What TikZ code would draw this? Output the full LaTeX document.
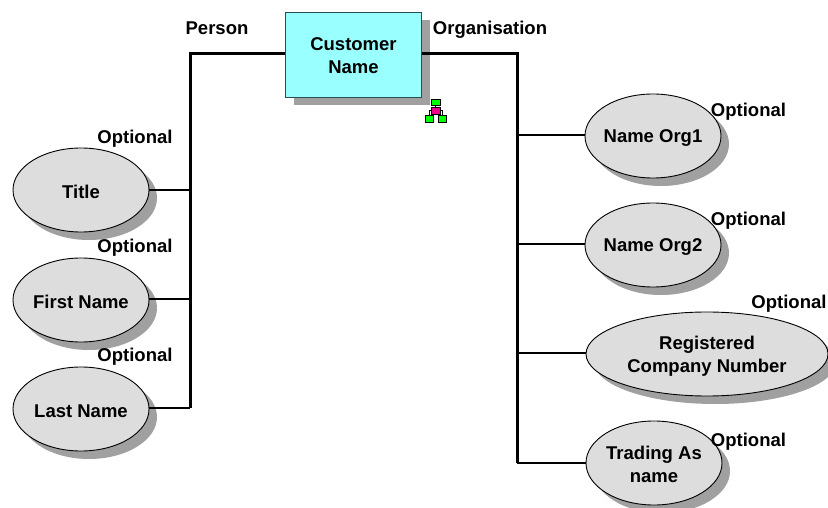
\documentclass[tikz,border=0pt]{standalone}
\usepackage{fontspec}
\setmainfont{Liberation Sans}
\usetikzlibrary{shapes.geometric}
\definecolor{attr}{RGB}{221,221,221}
\definecolor{shadowgray}{RGB}{160,160,160}
\definecolor{ent}{RGB}{153,255,255}
\definecolor{entline}{RGB}{40,80,80}
\newcommand{\dn}[2][-2pt]{\raisebox{#1}[\height][\depth]{\makebox[80pt][c]{#2}}}
\tikzset{
  x=1pt,y=-1pt,
  lab/.style={font=\fontsize{18.5pt}{23pt}\selectfont\bfseries,align=center,inner sep=0pt},
  attrib/.style={ellipse,draw=black,line width=0.9pt,fill=attr,inner sep=0pt,minimum height=84pt,minimum width=136pt,lab},
  wide/.style={minimum width=242pt},
  shad/.style={ellipse,fill=shadowgray,inner sep=0pt,minimum height=84pt,minimum width=136pt},
  entity/.style={rectangle,draw=entline,line width=0.9pt,fill=ent,inner sep=0pt,minimum width=136pt,minimum height=85pt,lab},
  trunk/.style={line width=3pt,black},
  branch/.style={line width=2.6pt,black},
  ico/.style={rectangle,draw=black,line width=0.4pt,inner sep=0pt,minimum width=8.5pt,minimum height=6.5pt},
}
\begin{document}
\begin{tikzpicture}
\useasboundingbox (0,0) rectangle (828,508);
\begin{scope}
\clip (0,0) rectangle (828,508);
\fill[shadowgray] (293.5,20) rectangle (430,105);
\foreach \p/\q in {89/198,89/308,89/417,661/144,661/253,662/471}
  \node[shad] at (\p,\q) {};
\node[shad,minimum width=242pt] at (715,362) {};
\end{scope}
% junctions
\coordinate (jl) at (190,54);
\coordinate (jr) at (517,54);
\coordinate (j1) at (190,190);
\coordinate (j2) at (190,299);
\coordinate (j3) at (190,408);
\coordinate (k1) at (517,135);
\coordinate (k2) at (517,244);
\coordinate (k3) at (517,353);
\coordinate (k4) at (517,463);
\node[entity] (cust) at (353.5,54.5) {\dn[-1pt]{Customer}\\\dn[-1pt]{Name}};
\node[attrib] (title) at (81,190) {\dn{Title}};
\node[attrib] (first) at (81,300) {\dn{First Name}};
\node[attrib] (last) at (81,409) {\dn{Last Name}};
\node[attrib] (org1) at (653,136) {\dn{Name Org1}};
\node[attrib] (org2) at (653,245) {\dn{Name Org2}};
\node[attrib,wide] (reg) at (707,354) {\dn{Registered}\\\dn{Company Number}};
\node[attrib] (trad) at (654,463) {\dn[-1pt]{Trading As}\\\dn[-1pt]{name}};
\draw[trunk] (cust.west|-jl) -- (jl) -- (j3);
\draw[trunk] (cust.east|-jr) -- (jr) -- (k4);
\draw[branch] (title.east|-j1) -- (j1);
\draw[branch] (first.east|-j2) -- (j2);
\draw[branch] (last.east|-j3) -- (j3);
\draw[branch] (org1.west|-k1) -- (k1);
\draw[branch] (org2.west|-k2) -- (k2);
\draw[branch] (reg.west|-k3) -- (k3);
\draw[branch] (trad.west|-k4) -- (k4);
\node[lab] (lp) at (217,28) {Person};
\node[lab] (lo) at (490,30) {Organisation};
\node[lab] (o1) at (135,139) {Optional};
\node[lab] (o2) at (135,248) {Optional};
\node[lab] (o3) at (135,357) {Optional};
\node[lab] (o4) at (748.5,112) {Optional};
\node[lab] (o5) at (748.5,221) {Optional};
\node[lab] (o6) at (789,304) {Optional};
\node[lab] (o7) at (748.5,442) {Optional};
% icon
\node[ico,fill=green] (i0) at (435.5,102) {};
\node[ico,fill=magenta] (i1) at (435.5,110.5) {};
\node[ico,fill=green] (i2) at (429,118.5) {};
\node[ico,fill=green] (i3) at (442,118.5) {};
\draw[line width=0.4pt] (i0) -- (i1);
\draw[line width=0.4pt] (i1.west) -| (i2.north);
\draw[line width=0.4pt] (i1.east) -| (i3.north);
\end{tikzpicture}
\end{document}
